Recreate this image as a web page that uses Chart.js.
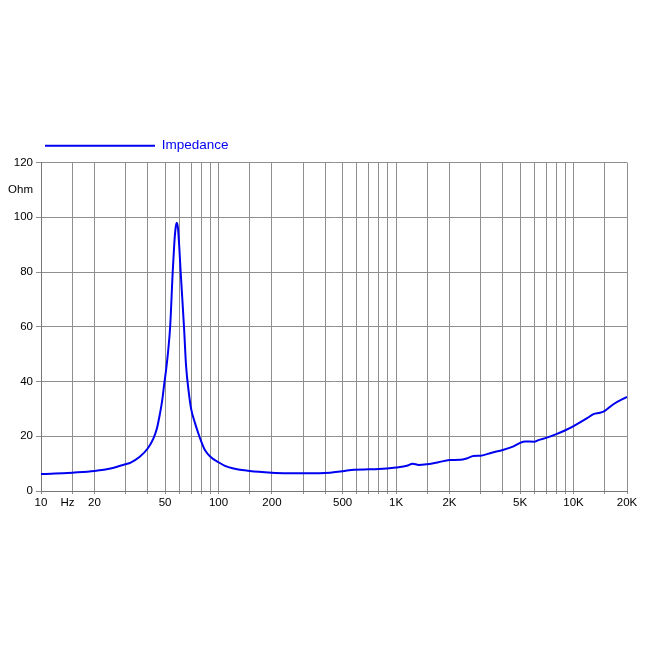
<!DOCTYPE html>
<html>
<head>
<meta charset="utf-8">
<script src="https://cdn.jsdelivr.net/npm/chart.js@4"></script>
<style>
  html, body { margin: 0; padding: 0; background: #fff; }
  #wrap { width: 650px; height: 650px; }
</style>
</head>
<body>
<div id="wrap"><canvas id="impChart"></canvas></div>
<script>
// frequency points (Hz) and impedance readings (Ohm)
const freqs = [10, 12, 15, 20, 25, 30, 32, 36, 40, 43, 45, 46.8, 48.2, 49.5, 50.6, 52, 53.4, 55.2, 56.3, 57.3,
  58.2, 59.1, 60, 61.2, 63.9, 65.6, 68.3, 70, 73.8, 77, 80, 83.8, 90, 100, 108.7, 120, 150, 200, 250, 300, 370,
  425, 500, 580, 700, 800, 1000, 1150, 1240, 1340, 1500, 1730, 2000, 2300, 2500, 2730, 3000, 3460, 4000,
  4590, 5000, 5340, 6000, 6340, 7000, 8000, 9000, 10000, 11860, 12940, 14100, 15000, 16760, 20000];
const impedance = [6.2, 6.35, 6.7, 7.3, 8.3, 9.8, 10.4, 12.5, 15.6, 19.2, 22.9, 28.3, 33.2, 39.3, 44, 51, 60, 80, 90, 96,
  98, 96, 90, 80, 60, 46, 35, 30.2, 24.7, 21, 18, 15, 12.5, 10.5, 9.2, 8.3, 7.3, 6.7, 6.5, 6.45, 6.5,
  6.7, 7.2, 7.8, 7.9, 8.0, 8.6, 9.2, 10.0, 9.5, 9.8, 10.5, 11.3, 11.4, 11.9, 12.8, 12.9, 14.0, 15.0,
  16.3, 17.6, 18.1, 18.0, 18.6, 19.4, 20.8, 22.2, 23.7, 26.5, 28.1, 28.6, 29.3, 31.7, 34.4];

// grid lines on the frequency axis and their labels
const xGrid = [10, 14.1, 15, 20, 30, 40, 50, 60, 70, 80, 90, 100, 150, 200, 300, 400, 500, 600, 700, 800, 900,
  1000, 1500, 2000, 3000, 4000, 5000, 6000, 7000, 8000, 9000, 10000, 15000, 20000];
const xLabels = { 10: '10', 14.1: 'Hz', 20: '20', 50: '50', 100: '100', 200: '200', 500: '500',
  1000: '1K', 2000: '2K', 5000: '5K', 10000: '10K', 20000: '20K' };
const yGrid = [0, 20, 40, 60, 80, 100, 110, 120];
const yLabels = { 0: '0', 20: '20', 40: '40', 60: '60', 80: '80', 100: '100', 110: 'Ohm', 120: '120' };

const gridCol = '#8f8f8f';
const tickFont = { family: 'Liberation Sans, Arial, sans-serif', size: 11.5 };

const ctx = document.getElementById('impChart').getContext('2d');
new Chart(ctx, {
  type: 'line',
  data: {
    datasets: [{
      label: 'Impedance',
      data: freqs.map((f, i) => ({ x: f, y: impedance[i] })),
      borderColor: '#0000f0',
      backgroundColor: '#0000f0',
      borderWidth: 2,
      pointRadius: 0,
      cubicInterpolationMode: 'monotone'
    }]
  },
  options: {
    responsive: true,
    maintainAspectRatio: false,
    animation: false,
    layout: { padding: { left: 0, right: 23, top: 94, bottom: 139 } },
    plugins: {
      legend: {
        position: 'top',
        align: 'start',
        labels: {
          boxWidth: 110,
          boxHeight: 0,
          padding: 45,
          color: '#0000f0',
          font: { family: 'Liberation Sans, Arial, sans-serif', size: 13.5 }
        }
      },
      tooltip: { enabled: false }
    },
    scales: {
      x: {
        type: 'logarithmic',
        min: 10,
        max: 20000,
        afterBuildTicks: s => { s.ticks = xGrid.map(v => ({ value: v })); },
        afterFit: s => { s.height = 20; },
        ticks: {
          autoSkip: false,
          maxRotation: 0,
          padding: 2,
          color: '#000',
          font: tickFont,
          callback: v => xLabels[v] || ''
        },
        grid: {
          color: c => c.tick && c.tick.value === 14.1 ? 'rgba(0,0,0,0)' : gridCol,
          tickLength: 3
        },
        border: { color: '#777' }
      },
      y: {
        min: 0,
        max: 120,
        afterBuildTicks: s => { s.ticks = yGrid.map(v => ({ value: v })); },
        afterFit: s => { s.width = 41; },
        ticks: {
          autoSkip: false,
          padding: 3,
          color: '#000',
          font: tickFont,
          callback: v => yLabels[v] || ''
        },
        grid: {
          color: c => c.tick && c.tick.value === 110 ? 'rgba(0,0,0,0)' : gridCol,
          tickLength: 5
        },
        border: { color: '#777' }
      }
    }
  }
});
</script>
</body>
</html>
